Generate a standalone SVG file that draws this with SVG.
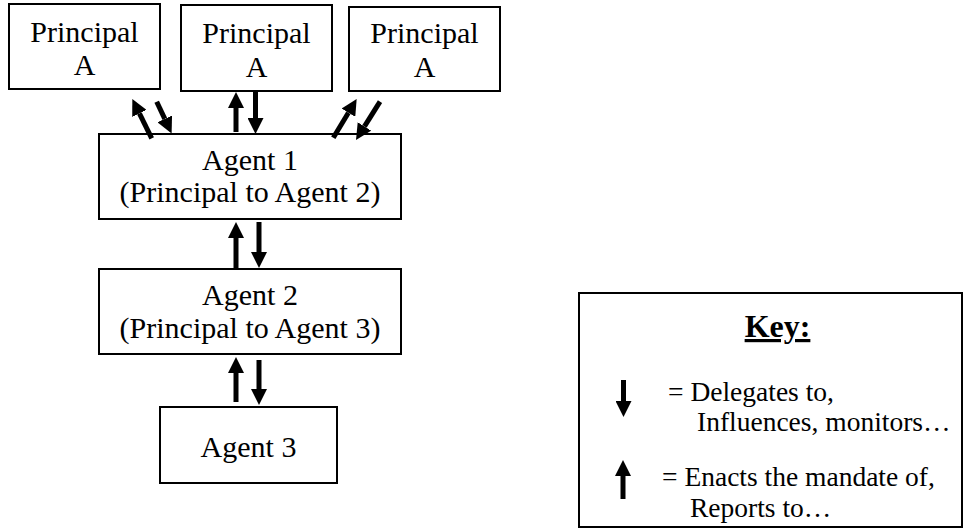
<svg xmlns="http://www.w3.org/2000/svg" width="964" height="529" viewBox="0 0 964 529">
  <style>
    .box { fill: #ffffff; stroke: #000000; stroke-width: 2; }
    .lbl { font-family: "Liberation Serif", "Times New Roman", serif; font-size: 30px; fill: #000000; text-anchor: middle; }
    .key { font-family: "Liberation Serif", "Times New Roman", serif; font-size: 27.5px; fill: #000000; }
    .keyhead { font-family: "Liberation Serif", "Times New Roman", serif; font-size: 32px; font-weight: bold; fill: #000000; text-anchor: middle; text-decoration: underline; }
    .arr { stroke: #000000; stroke-width: 5; fill: none; marker-end: url(#head); }
  </style>
  <defs>
    <!-- solid triangular head, starts where the shaft ends -->
    <marker id="head" viewBox="0 0 10 10" refX="0" refY="5" markerWidth="3.2" markerHeight="3.2" orient="auto" markerUnits="strokeWidth">
      <path d="M0,0 L10,5 L0,10 Z" fill="#000000"/>
    </marker>
  </defs>

  <rect width="964" height="529" fill="#ffffff"/>

  <g id="principal-a-1">
    <rect class="box" x="9" y="4" width="151" height="85"/>
    <text class="lbl" x="84.5" y="42">Principal</text>
    <text class="lbl" x="84.5" y="75">A</text>
  </g>
  <g id="principal-a-2">
    <rect class="box" x="181" y="5" width="151" height="86"/>
    <text class="lbl" x="256.5" y="43">Principal</text>
    <text class="lbl" x="256.5" y="77">A</text>
  </g>
  <g id="principal-a-3">
    <rect class="box" x="349" y="7" width="151" height="84"/>
    <text class="lbl" x="424.5" y="43">Principal</text>
    <text class="lbl" x="424.5" y="77">A</text>
  </g>

  <g id="agent-1">
    <rect class="box" x="99" y="134" width="302" height="85"/>
    <text class="lbl" x="250" y="170">Agent 1</text>
    <text class="lbl" x="250" y="202">(Principal to Agent 2)</text>
  </g>
  <g id="agent-2">
    <rect class="box" x="99" y="269" width="302" height="85"/>
    <text class="lbl" x="250" y="305">Agent 2</text>
    <text class="lbl" x="250" y="338">(Principal to Agent 3)</text>
  </g>
  <g id="agent-3">
    <rect class="box" x="160" y="407" width="177" height="76"/>
    <text class="lbl" x="248.5" y="457">Agent 3</text>
  </g>

  <g id="connectors">
    <!-- Principal A (left) <-> Agent 1 -->
    <line class="arr" x1="151.7" y1="138.3" x2="139.4" y2="113.4"/>
    <line class="arr" x1="156.7" y1="101.7" x2="164.8" y2="118.9"/>
    <!-- Principal A (middle) <-> Agent 1 -->
    <line class="arr" x1="236" y1="132" x2="236" y2="108"/>
    <line class="arr" x1="255.5" y1="92" x2="255.5" y2="118"/>
    <!-- Principal A (right) <-> Agent 1 -->
    <line class="arr" x1="333.3" y1="137.7" x2="348.4" y2="112.7"/>
    <line class="arr" x1="380" y1="101.7" x2="364.5" y2="126.4"/>
    <!-- Agent 1 <-> Agent 2 -->
    <line class="arr" x1="236" y1="268" x2="236" y2="238"/>
    <line class="arr" x1="259" y1="222" x2="259" y2="252"/>
    <!-- Agent 2 <-> Agent 3 -->
    <line class="arr" x1="236" y1="402" x2="236" y2="373"/>
    <line class="arr" x1="259" y1="360" x2="259" y2="389"/>
  </g>

  <g id="key">
    <rect class="box" x="579" y="293" width="383" height="234"/>
    <text class="keyhead" x="777.5" y="337">Key:</text>
    <line class="arr" x1="623.5" y1="380" x2="623.5" y2="401"/>
    <text class="key" x="668" y="401">= Delegates to,</text>
    <text class="key" x="697" y="431">Influences, monitors…</text>
    <line class="arr" x1="623" y1="499" x2="623" y2="476"/>
    <text class="key" x="662" y="486">= Enacts the mandate of,</text>
    <text class="key" x="690" y="517">Reports to…</text>
  </g>
</svg>
